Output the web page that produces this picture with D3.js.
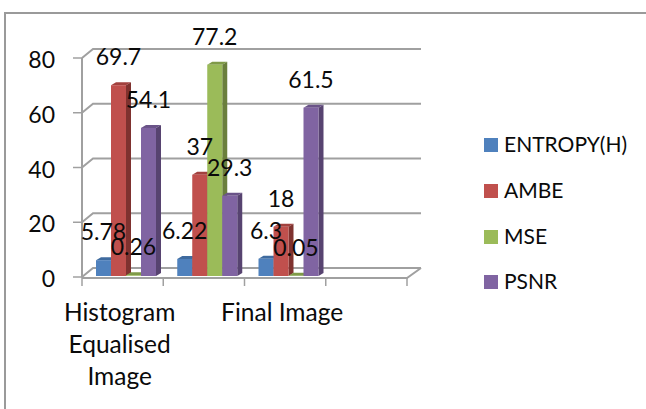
<!DOCTYPE html>
<html>
<head>
<meta charset="utf-8">
<script src="https://cdn.jsdelivr.net/npm/d3@7/dist/d3.min.js"></script>
<style>
html,body{margin:0;padding:0;background:#fff}
svg{display:block}
text{font-family:Lato,"Open Sans",sans-serif;fill:#0a0a0a}
</style>
</head>
<body>
<svg id="chart" width="646" height="409"></svg>
<script>
const categories = ["Histogram Equalised Image", "Contrast Stretched", "Final Image", "Spare"];
const axisLabels = [["Histogram", "Equalised", "Image"], [], ["Final Image"], []];
const seriesNames = ["ENTROPY(H)", "AMBE", "MSE", "PSNR"];
const entropy = [5.78, 6.22, 6.3, null];
const ambe = [69.7, 37, 18, null];
const mse = [0.26, 77.2, 0.05, null];
const psnr = [54.1, 29.3, 61.5, null];
const valueTicks = [0, 20, 40, 60, 80];
const faceColors = ["#4f81bd", "#c0504d", "#9bbb59", "#8064a2"];
const sideColors = ["#385d8a", "#7f322f", "#6a7f3c", "#574370"];
const topColors = ["#3f6b9f", "#a2413e", "#7f9a48", "#6a5388"];

const seriesValues = [entropy, ambe, mse, psnr];
const svg = d3.select("#chart");

const x = d3.scaleBand().domain(categories).range([82, 407]);
const y = d3.scaleLinear().domain([0, 80]).range([277, 58]);
const bar = d3.scaleBand().domain(seriesNames).range([14, 74]);
const depth = { dx: 11, dy: -9 };
const barDepth = { dx: 5, dy: -3 };

// chart frame
svg.append("path")
  .attr("d", "M5,409V13H646")
  .attr("fill", "none").attr("stroke", "#9a9a9a").attr("stroke-width", 2);

const wall = svg.append("g").attr("fill", "none").attr("stroke", "#a0a0a0");

// gridlines on the back wall and the return to the front axis
valueTicks.forEach(v => {
  wall.append("path")
    .attr("stroke-width", 2)
    .attr("d", d3.line()([
      [x.range()[0], y(v)],
      [x.range()[0] + depth.dx, y(v) + depth.dy],
      [x.range()[1] + depth.dx + 3, y(v) + depth.dy]
    ]));
  wall.append("line")
    .attr("x1", x.range()[0] - 9).attr("x2", x.range()[0])
    .attr("y1", y(v)).attr("y2", y(v))
    .attr("stroke-width", 1.5);
});
wall.append("line")
  .attr("x1", x.range()[0]).attr("x2", x.range()[0])
  .attr("y1", y(80)).attr("y2", y(0)).attr("stroke-width", 2);

// floor edge with category ticks
wall.append("path").attr("stroke-width", 2)
  .attr("d", d3.line()([
    [x.range()[0], y(0) + 1],
    [x.range()[1], y(0) + 1],
    [x.range()[1] + depth.dx + 3, y(0) + depth.dy]
  ]));
[...categories.map(c => x(c)), x.range()[1]].forEach(px => {
  wall.append("line")
    .attr("x1", px).attr("x2", px)
    .attr("y1", y(0)).attr("y2", y(0) + 9)
    .attr("stroke-width", 1.5);
});

// value axis labels
svg.append("g").selectAll("text").data(valueTicks).join("text")
  .attr("x", 55).attr("y", d => y(d) + 10)
  .attr("text-anchor", "end").attr("font-size", 23)
  .text(d => d);

// bars as front, side and top faces
const baseY = y(0) - 1;
const marks = [];
seriesValues.forEach((vals, s) => vals.forEach((v, c) => {
  if (v !== null) marks.push({ s, c, v });
}));
const bars = svg.append("g").selectAll("g").data(marks).join("g");
const bx = d => x(categories[d.c]) + bar(seriesNames[d.s]);
const by = d => baseY - (y(0) - y(d.v));
const bw = bar.bandwidth();
bars.append("path").attr("fill", d => topColors[d.s])
  .attr("d", d => d3.line()([
    [bx(d), by(d)], [bx(d) + barDepth.dx, by(d) + barDepth.dy],
    [bx(d) + bw + barDepth.dx, by(d) + barDepth.dy], [bx(d) + bw, by(d)]
  ]) + "Z");
bars.append("path").attr("fill", d => sideColors[d.s])
  .attr("d", d => d3.line()([
    [bx(d) + bw, by(d)], [bx(d) + bw + barDepth.dx, by(d) + barDepth.dy],
    [bx(d) + bw + barDepth.dx, baseY + barDepth.dy], [bx(d) + bw, baseY]
  ]) + "Z");
bars.append("rect").attr("fill", d => faceColors[d.s])
  .attr("x", bx).attr("y", by).attr("width", bw)
  .attr("height", d => baseY - by(d));

// data labels sit a fixed distance above each bar
svg.append("g").selectAll("text").data(marks).join("text")
  .attr("x", d => bx(d) + bw / 2)
  .attr("y", d => by(d) - 20)
  .attr("text-anchor", "middle").attr("font-size", 23)
  .text(d => d.v);

// category labels
const cat = svg.append("g").selectAll("text").data(categories).join("text")
  .attr("text-anchor", "middle").attr("font-size", 24.5)
  .attr("transform", d => `translate(${x(d) + x.bandwidth() / 2 - 3},321)`);
cat.selectAll("tspan").data((d, i) => axisLabels[i]).join("tspan")
  .attr("x", 0).attr("dy", (d, i) => i ? 32 : 0)
  .text(d => d);

// legend
const legend = svg.append("g").selectAll("g").data(seriesNames).join("g")
  .attr("transform", (d, i) => `translate(484,${[138, 184, 230, 275][i]})`);
legend.append("rect").attr("width", 14).attr("height", 14)
  .attr("fill", (d, i) => faceColors[i]);
legend.append("text").attr("x", 20).attr("y", 14)
  .attr("font-size", 21).text(d => d);
</script>
</body>
</html>
